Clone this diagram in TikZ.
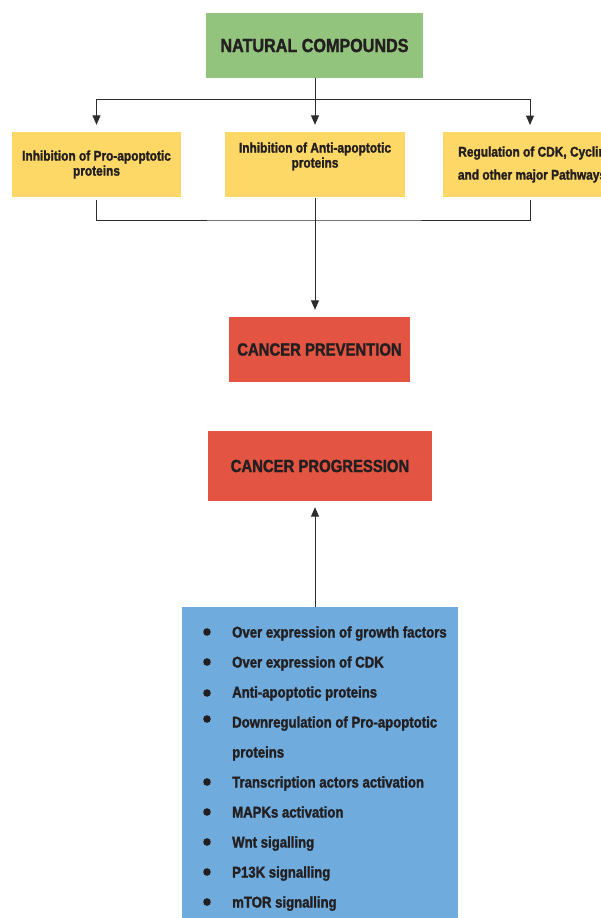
\documentclass[tikz,border=0pt]{standalone}
\usepackage{fontspec}
\setmainfont[FakeStretch=0.85, BoldFeatures={FakeBold=1.6}]{Liberation Sans}
\usetikzlibrary{arrows.meta}
\definecolor{ncgreen}{RGB}{147,196,125}
\definecolor{boxyellow}{RGB}{253,216,102}
\definecolor{boxred}{RGB}{228,84,66}
\definecolor{boxblue}{RGB}{111,172,221}
\definecolor{ink}{RGB}{35,31,32}
\definecolor{linec}{RGB}{45,45,45}
\begin{document}
\begin{tikzpicture}[x=1pt,y=-1pt,
  every node/.style={text=ink, inner sep=0pt, font=\bfseries},
  fillbox/.style={draw=none, rectangle, align=center},
  conn/.style={draw=linec, line width=1pt},
  arr/.style={conn, -{Triangle[length=9.5pt,width=8pt]}},
  item/.style={anchor=base west, font=\bfseries\fontsize{15.5}{18}\selectfont}]
\useasboundingbox[fill=white] (0,0) rectangle (601,918);

\node[fillbox, fill=ncgreen, minimum width=217pt, minimum height=65pt,
  font=\bfseries\fontsize{19}{22}\selectfont] (nc) at (314.5,45.5) {NATURAL COMPOUNDS};

\node[fillbox, fill=boxyellow, minimum width=169pt, minimum height=65pt,
  font=\bfseries\fontsize{14}{15}\selectfont] (b1) at (96.5,164.5) {Inhibition of Pro-apoptotic\\proteins};
\node[fillbox, fill=boxyellow, minimum width=180pt, minimum height=65pt,
  font=\bfseries\fontsize{14}{15}\selectfont] (b2) at (315,164.5) {Inhibition of Anti-apoptotic\\proteins\\[4pt]};
\node[fillbox, fill=boxyellow, minimum width=178pt, minimum height=65pt,
  font=\bfseries\fontsize{14}{23}\selectfont] (b3) at (532,164.5) {Regulation of CDK, Cyclin\\and other major Pathways};

\node[fillbox, fill=boxred, minimum width=181pt, minimum height=65pt,
  font=\bfseries\fontsize{17.5}{20}\selectfont] (cp) at (319.5,349.5) {CANCER PREVENTION};
\node[fillbox, fill=boxred, minimum width=224pt, minimum height=70pt,
  font=\bfseries\fontsize{17.5}{20}\selectfont] (cpg) at (320,466) {CANCER PROGRESSION};

\node[fillbox, fill=boxblue, minimum width=276pt, minimum height=313pt] (bl) at (320,763.5) {};

% list
\foreach \y/\t [count=\i] in {632/Over expression of growth factors,
  662/Over expression of CDK, 692/Anti-apoptotic proteins,
  722/Downregulation of Pro-apoptotic, 752/proteins,
  782/Transcription actors activation, 812/MAPKs activation,
  842/Wnt sigalling, 872/P13K signalling, 902/mTOR signalling}
  {\node[item] (l\i) at (232,\y+5.5) {\t};}
\foreach \y in {632,662,693,719,782,812,842,872,902}
  {\fill[ink] (207,\y) circle (3.8pt);}

% connectors
\coordinate (t) at (315,99);
\coordinate (m) at (315,220);
\draw[conn] (nc.south -| t) -- (t);
\draw[arr, shorten >=7pt] (t) -- (b2.north -| t);
\draw[arr, shorten >=7pt] (t) -| (b1.north);
\draw[arr, shorten >=7pt] (t) -| (530,132);
\draw[conn] ([yshift=-3pt]b1.south) |- (m) -| ([yshift=-3pt]b3.south -| 530,0);
\draw[arr, shorten >=7pt] ([yshift=-1pt]b2.south -| t) -- (cp.north -| t);
\draw[arr, shorten >=6pt] (bl.north -| t) -- (cpg.south -| t);
\end{tikzpicture}
\end{document}
